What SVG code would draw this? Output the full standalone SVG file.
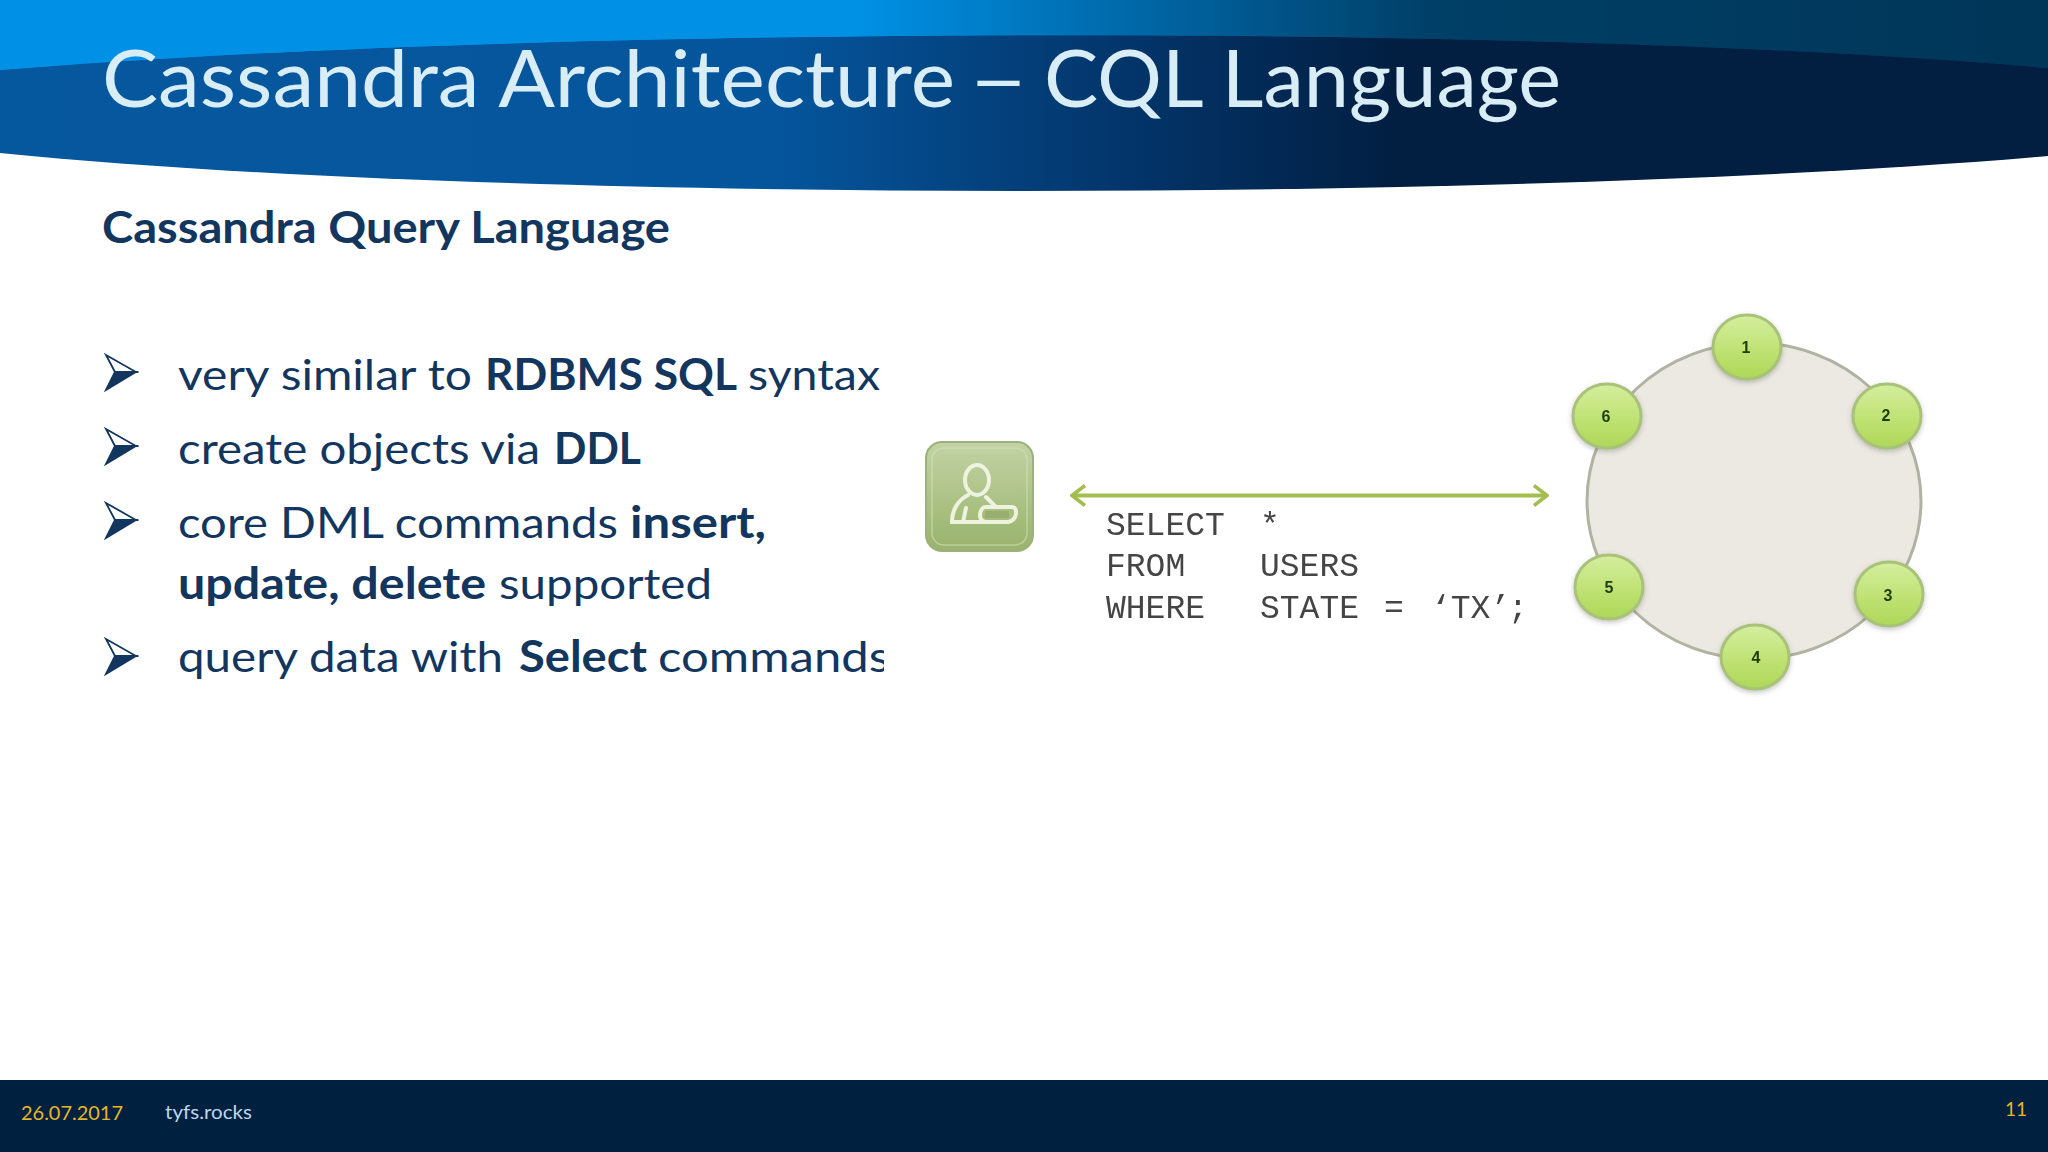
<svg xmlns="http://www.w3.org/2000/svg" width="2048" height="1152" viewBox="0 0 2048 1152">
<style>
.t{font-family:Lato,"Open Sans",sans-serif}
.b{font-size:43px;fill:#13365f}
.bold{font-weight:700}
.m{font-family:"Liberation Mono",monospace;font-size:33px;fill:#444}
.n{font-family:"Liberation Sans",Arial,sans-serif;font-weight:700;font-size:16px;fill:#1f3d0a;text-anchor:middle}
.node{fill:url(#ng);stroke:#a9c279;stroke-width:3}
</style>
<defs>
<linearGradient id="top" x1="0" x2="1" y1="0" y2="0"><stop offset="0" stop-color="#0090e6"/><stop offset=".42" stop-color="#0090e4"/><stop offset=".6" stop-color="#005a92"/><stop offset=".7" stop-color="#003f66"/><stop offset="1" stop-color="#003658"/></linearGradient>
<linearGradient id="low" x1="0" x2="1" y1="0" y2="0"><stop offset="0" stop-color="#06589e"/><stop offset=".38" stop-color="#05559c"/><stop offset=".55" stop-color="#03356a"/><stop offset=".68" stop-color="#021f42"/><stop offset="1" stop-color="#021f42"/></linearGradient>
<linearGradient id="ng" x1="0" x2="0" y1="0" y2="1"><stop offset="0" stop-color="#d5ee9f"/><stop offset=".55" stop-color="#bfe274"/><stop offset="1" stop-color="#aed757"/></linearGradient>
<linearGradient id="ig" x1="0" x2="0" y1="0" y2="1"><stop offset="0" stop-color="#c3d3a6"/><stop offset=".75" stop-color="#a3bb78"/><stop offset="1" stop-color="#9ab26d"/></linearGradient>
<filter id="sh" x="-20%" y="-20%" width="140%" height="140%"><feGaussianBlur in="SourceGraphic" stdDeviation=".6" result="s"/><feDropShadow in="s" dx="0" dy="2" stdDeviation="2.5" flood-color="#555" flood-opacity=".35"/></filter>
<filter id="soft" x="-5%" y="-20%" width="110%" height="140%"><feGaussianBlur stdDeviation=".6"/></filter>
<filter id="softline" filterUnits="userSpaceOnUse" x="1050" y="470" width="520" height="50"><feGaussianBlur stdDeviation=".7"/></filter>
<clipPath id="textclip"><rect x="170" y="340" width="714" height="360"/></clipPath>
<marker id="ah" viewBox="0 0 18 24" refX="16" refY="12" markerWidth="18" markerHeight="24" markerUnits="userSpaceOnUse" orient="auto-start-reverse"><path d="M3 2 L16 12 L3 22" fill="none" stroke="#a3bd4f" stroke-width="3.5"/></marker>
<g id="bullet"><path d="M106 355 L136 372 L115 372 Z" fill="#fff" stroke="#13365f" stroke-width="1.8"/><path d="M106 390 L136 372 L115 372 Z" fill="#13365f" stroke="#13365f" stroke-width="1.8"/></g>
</defs>
<rect width="2048" height="1152" fill="#fff"/>
<g id="header">
<rect width="2048" height="90" fill="url(#top)"/>
<path d="M0 70 C500 28 1500 20 2048 68 L2048 156 C1500 203 500 203 0 153 Z" fill="url(#low)"/>
<path d="M0 0 H2048 V68 C1500 20 500 28 0 70 Z" fill="url(#top)"/>
<text class="t" y="107" font-size="79" fill="#d9edf7"><tspan x="102" textLength="853" lengthAdjust="spacingAndGlyphs">Cassandra Architecture</tspan><tspan x="968" textLength="61" lengthAdjust="spacingAndGlyphs">–</tspan><tspan x="1044" textLength="517" lengthAdjust="spacingAndGlyphs">CQL Language</tspan></text>
</g>
<text class="t bold" x="102" y="243" font-size="43" fill="#13365f" textLength="568" lengthAdjust="spacingAndGlyphs">Cassandra Query Language</text>
<g id="bullets">
<use href="#bullet"/>
<use href="#bullet" y="74"/>
<use href="#bullet" y="148"/>
<use href="#bullet" y="284"/>
<g clip-path="url(#textclip)">
<text class="t b" y="390"><tspan x="178" textLength="294" lengthAdjust="spacingAndGlyphs">very similar to</tspan><tspan x="485" class="bold" textLength="252" lengthAdjust="spacingAndGlyphs">RDBMS SQL</tspan><tspan x="748" textLength="132" lengthAdjust="spacingAndGlyphs">syntax</tspan></text>
<text class="t b" y="464"><tspan x="178" textLength="362" lengthAdjust="spacingAndGlyphs">create objects via</tspan><tspan x="554" class="bold" textLength="87" lengthAdjust="spacingAndGlyphs">DDL</tspan></text>
<text class="t b" y="538"><tspan x="178" textLength="440" lengthAdjust="spacingAndGlyphs">core DML commands</tspan><tspan x="630" class="bold" textLength="136" lengthAdjust="spacingAndGlyphs">insert,</tspan></text>
<text class="t b" y="599"><tspan x="178" class="bold" textLength="308" lengthAdjust="spacingAndGlyphs">update, delete</tspan><tspan x="499" textLength="213" lengthAdjust="spacingAndGlyphs">supported</tspan></text>
<text class="t b" y="672"><tspan x="178" textLength="325" lengthAdjust="spacingAndGlyphs">query data with</tspan><tspan x="519" class="bold" textLength="128" lengthAdjust="spacingAndGlyphs">Select</tspan><tspan x="658" textLength="232" lengthAdjust="spacingAndGlyphs">commands</tspan></text>
</g>
</g>
<g id="connectors" filter="url(#softline)"><line x1="1072" y1="495.500" x2="1547" y2="495.500" stroke="#a3bd4f" stroke-width="4" marker-start="url(#ah)" marker-end="url(#ah)"/></g>
<g id="user" filter="url(#soft)">
<rect x="926" y="442" width="107" height="109" rx="16" fill="url(#ig)" stroke="#9bb27a" stroke-width="2"/>
<rect x="932" y="448" width="95" height="97" rx="12" fill="none" stroke="#d3dfbd" stroke-width="1.500" opacity=".6"/>
<ellipse cx="977" cy="480" rx="12" ry="15" fill="none" stroke="#eef3df" stroke-width="4"/>
<path d="M968 495 C958 500 952 510 952 522 L986 522 M1012 507 L986 507 C979 507 977 522 986 522 L1008 522 C1018 520 1018 507 1012 507 M986 497 L996 507 M966 508 L963 522" fill="none" stroke="#eef3df" stroke-width="4" stroke-linecap="round"/>
<rect x="985" y="511" width="24" height="7" fill="#97ae6c"/>
</g>
<g id="query" filter="url(#soft)">
<text class="m"><tspan x="1106" y="535">SELECT</tspan><tspan x="1260" y="535">*</tspan><tspan x="1106" y="576">FROM</tspan><tspan x="1260" y="576">USERS</tspan><tspan x="1106" y="618">WHERE</tspan><tspan x="1260" y="618">STATE</tspan><tspan x="1384" y="618">=</tspan><tspan x="1431" y="618">‘TX’</tspan><tspan x="1508" y="618">;</tspan></text>
</g>
<g id="ring" filter="url(#soft)"><ellipse cx="1754" cy="501" rx="167" ry="158" fill="#ece9e2" stroke="#b0b2a2" stroke-width="3"/></g>
<g id="node-1" filter="url(#sh)"><ellipse class="node" cx="1747" cy="347" rx="34" ry="32"/><text class="n" x="1746" y="353">1</text></g>
<g id="node-2" filter="url(#sh)"><ellipse class="node" cx="1887" cy="416" rx="34" ry="32"/><text class="n" x="1886" y="421">2</text></g>
<g id="node-3" filter="url(#sh)"><ellipse class="node" cx="1889" cy="594" rx="34" ry="32"/><text class="n" x="1888" y="601">3</text></g>
<g id="node-4" filter="url(#sh)"><ellipse class="node" cx="1755" cy="657" rx="34" ry="32"/><text class="n" x="1756" y="663">4</text></g>
<g id="node-5" filter="url(#sh)"><ellipse class="node" cx="1609" cy="587" rx="34" ry="32"/><text class="n" x="1609" y="593">5</text></g>
<g id="node-6" filter="url(#sh)"><ellipse class="node" cx="1607" cy="416" rx="34" ry="32"/><text class="n" x="1606" y="422">6</text></g>
<g id="footer">
<rect y="1080" width="2048" height="72" fill="#00203f"/>
<text class="t" x="21" y="1120" font-size="20" fill="#e6b72a" textLength="102" lengthAdjust="spacingAndGlyphs">26.07.2017</text>
<text class="t" x="165" y="1119" font-size="20" fill="#bcd6ee" textLength="87" lengthAdjust="spacingAndGlyphs">tyfs.rocks</text>
<text class="t" x="2005" y="1116" font-size="20" fill="#e6b72a" textLength="22" lengthAdjust="spacingAndGlyphs">11</text>
</g>
</svg>
